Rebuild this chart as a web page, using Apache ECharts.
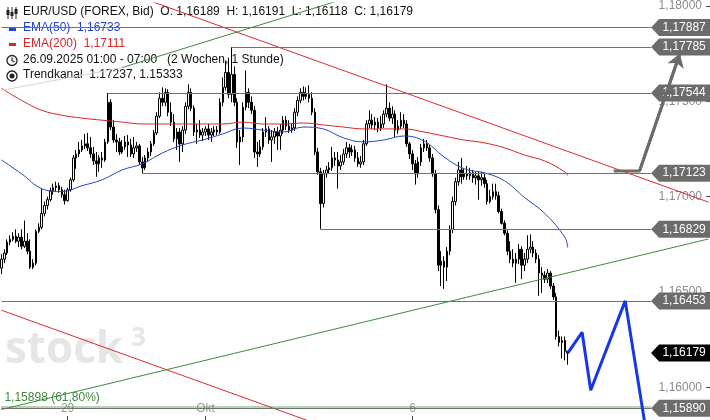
<!DOCTYPE html>
<html><head><meta charset="utf-8">
<script src="https://cdn.jsdelivr.net/npm/echarts@6/dist/echarts.min.js"></script>
<style>html,body{margin:0;padding:0;background:#fff}#c{width:710px;height:420px}</style>
</head><body><div id="c"></div>
<script>
// ---- data ----
const opens = [
1.16625,1.16672,1.16704,1.16761,1.16776,1.16792,1.16766,1.16787,1.16740,1.16766,
1.16714,1.16630,1.16651,1.16818,1.16839,1.16912,1.16953,1.16984,1.17031,1.17047,
1.17057,1.17036,1.17010,1.16979,1.17036,1.17088,1.17203,1.17224,1.17245,1.17266,
1.17277,1.17256,1.17224,1.17187,1.17172,1.17203,1.17192,1.17287,1.17495,1.17365,
1.17297,1.17287,1.17234,1.17261,1.17287,1.17271,1.17224,1.17256,1.17266,1.17182,
1.17151,1.17203,1.17234,1.17277,1.17334,1.17422,1.17516,1.17495,1.17547,1.17443,
1.17391,1.17303,1.17339,1.17277,1.17349,1.17474,1.17547,1.17464,1.17339,1.17349,
1.17323,1.17339,1.17355,1.17323,1.17339,1.17349,1.17339,1.17495,1.17573,1.17651,
1.17537,1.17641,1.17495,1.17287,1.17313,1.17469,1.17547,1.17495,1.17453,1.17234,
1.17224,1.17261,1.17339,1.17355,1.17297,1.17313,1.17339,1.17318,1.17349,1.17401,
1.17370,1.17349,1.17360,1.17443,1.17505,1.17547,1.17526,1.17537,1.17516,1.17443,
1.17234,1.17130,1.16964,1.17120,1.17140,1.17151,1.17203,1.17192,1.17161,1.17182,
1.17224,1.17256,1.17234,1.17245,1.17203,1.17172,1.17182,1.17277,1.17381,1.17401,
1.17375,1.17391,1.17360,1.17381,1.17433,1.17464,1.17412,1.17433,1.17349,1.17370,
1.17401,1.17381,1.17277,1.17224,1.17172,1.17120,1.17182,1.17256,1.17277,1.17256,
1.17203,1.17120,1.16932,1.16640,1.16661,1.16630,1.16714,1.16828,1.16974,1.17078,
1.17140,1.17104,1.17120,1.17109,1.17125,1.17099,1.17109,1.17088,1.17099,1.17068,
1.16974,1.17000,1.17026,1.17005,1.16922,1.16860,1.16808,1.16714,1.16672,1.16651,
1.16672,1.16724,1.16640,1.16672,1.16724,1.16735,1.16704,1.16672,1.16599,1.16588,
1.16567,1.16599,1.16531,1.16474,1.16266,1.16235,1.16245,1.16189];
const highs = [
1.16698,1.16724,1.16776,1.16797,1.16813,1.16828,1.16808,1.16828,1.16875,1.16808,
1.16776,1.16672,1.16828,1.16860,1.17042,1.16974,1.17000,1.17047,1.17068,1.17078,
1.17073,1.17052,1.17036,1.17047,1.17099,1.17218,1.17245,1.17287,1.17297,1.17329,
1.17334,1.17313,1.17261,1.17234,1.17218,1.17234,1.17303,1.17544,1.17511,1.17401,
1.17329,1.17308,1.17297,1.17318,1.17323,1.17303,1.17313,1.17287,1.17277,1.17208,
1.17218,1.17256,1.17292,1.17349,1.17443,1.17547,1.17573,1.17568,1.17563,1.17495,
1.17433,1.17360,1.17360,1.17370,1.17495,1.17589,1.17568,1.17479,1.17381,1.17401,
1.17360,1.17370,1.17381,1.17360,1.17370,1.17370,1.17516,1.17625,1.17714,1.17729,
1.17785,1.17683,1.17516,1.17349,1.17495,1.17662,1.17568,1.17526,1.17474,1.17287,
1.17297,1.17360,1.17417,1.17370,1.17349,1.17360,1.17365,1.17381,1.17422,1.17422,
1.17401,1.17381,1.17464,1.17526,1.17568,1.17578,1.17573,1.17584,1.17547,1.17464,
1.17256,1.17151,1.17140,1.17161,1.17182,1.17261,1.17234,1.17234,1.17218,1.17250,
1.17287,1.17277,1.17271,1.17266,1.17234,1.17213,1.17297,1.17401,1.17453,1.17433,
1.17417,1.17412,1.17422,1.17453,1.17589,1.17495,1.17474,1.17453,1.17401,1.17443,
1.17433,1.17401,1.17287,1.17245,1.17192,1.17208,1.17277,1.17303,1.17297,1.17271,
1.17224,1.17140,1.16953,1.16714,1.16687,1.16735,1.16849,1.17000,1.17099,1.17182,
1.17203,1.17151,1.17161,1.17151,1.17140,1.17130,1.17130,1.17130,1.17120,1.17088,
1.17036,1.17068,1.17068,1.17026,1.16937,1.16875,1.16823,1.16766,1.16724,1.16704,
1.16751,1.16740,1.16704,1.16797,1.16802,1.16766,1.16724,1.16693,1.16630,1.16609,
1.16620,1.16609,1.16547,1.16495,1.16297,1.16266,1.16266,1.16191];
const lows = [
1.16593,1.16651,1.16693,1.16745,1.16766,1.16756,1.16735,1.16724,1.16730,1.16698,
1.16620,1.16620,1.16640,1.16808,1.16828,1.16896,1.16932,1.16974,1.17010,1.17026,
1.17021,1.16995,1.16958,1.16974,1.17026,1.17078,1.17146,1.17208,1.17234,1.17250,
1.17240,1.17203,1.17166,1.17104,1.17130,1.17151,1.17182,1.17277,1.17349,1.17282,
1.17234,1.17218,1.17224,1.17245,1.17208,1.17208,1.17203,1.17234,1.17166,1.17123,
1.17140,1.17182,1.17213,1.17266,1.17323,1.17412,1.17474,1.17474,1.17422,1.17370,
1.17287,1.17245,1.17182,1.17234,1.17329,1.17458,1.17448,1.17318,1.17277,1.17308,
1.17292,1.17318,1.17297,1.17287,1.17318,1.17323,1.17329,1.17474,1.17557,1.17516,
1.17495,1.17474,1.17256,1.17166,1.17287,1.17453,1.17464,1.17433,1.17203,1.17156,
1.17208,1.17245,1.17313,1.17277,1.17182,1.17277,1.17245,1.17245,1.17329,1.17349,
1.17334,1.17334,1.17344,1.17422,1.17490,1.17505,1.17511,1.17495,1.17427,1.17218,
1.17115,1.16829,1.16943,1.17099,1.17120,1.17135,1.17161,1.17042,1.17140,1.17166,
1.17203,1.17203,1.17213,1.17182,1.17156,1.17151,1.17166,1.17266,1.17360,1.17355,
1.17349,1.17339,1.17344,1.17360,1.17417,1.17396,1.17381,1.17313,1.17329,1.17355,
1.17360,1.17261,1.17197,1.17140,1.17063,1.17099,1.17161,1.17234,1.17240,1.17182,
1.17104,1.16912,1.16609,1.16531,1.16516,1.16557,1.16693,1.16808,1.16953,1.17057,
1.17068,1.17088,1.17088,1.17088,1.17073,1.17063,1.16984,1.17057,1.17047,1.16958,
1.16964,1.16984,1.16984,1.16912,1.16854,1.16797,1.16693,1.16651,1.16630,1.16547,
1.16646,1.16567,1.16609,1.16651,1.16704,1.16682,1.16651,1.16479,1.16495,1.16547,
1.16547,1.16516,1.16458,1.16250,1.16214,1.16151,1.16141,1.16118];
const closes = [
1.16672,1.16704,1.16761,1.16776,1.16792,1.16766,1.16787,1.16740,1.16766,1.16714,
1.16630,1.16651,1.16818,1.16839,1.16912,1.16953,1.16984,1.17031,1.17047,1.17057,
1.17036,1.17010,1.16979,1.17036,1.17088,1.17203,1.17224,1.17245,1.17266,1.17277,
1.17256,1.17224,1.17187,1.17172,1.17203,1.17192,1.17287,1.17495,1.17365,1.17297,
1.17287,1.17234,1.17261,1.17287,1.17271,1.17224,1.17256,1.17266,1.17182,1.17151,
1.17203,1.17234,1.17277,1.17334,1.17422,1.17516,1.17495,1.17547,1.17443,1.17391,
1.17303,1.17339,1.17277,1.17349,1.17474,1.17547,1.17464,1.17339,1.17349,1.17323,
1.17339,1.17355,1.17323,1.17339,1.17349,1.17339,1.17495,1.17573,1.17651,1.17537,
1.17641,1.17495,1.17287,1.17313,1.17469,1.17547,1.17495,1.17453,1.17234,1.17224,
1.17261,1.17339,1.17355,1.17297,1.17313,1.17339,1.17318,1.17349,1.17401,1.17370,
1.17349,1.17360,1.17443,1.17505,1.17547,1.17526,1.17537,1.17516,1.17443,1.17234,
1.17130,1.16964,1.17120,1.17140,1.17151,1.17203,1.17192,1.17161,1.17182,1.17224,
1.17256,1.17234,1.17245,1.17203,1.17172,1.17182,1.17277,1.17381,1.17401,1.17375,
1.17391,1.17360,1.17381,1.17433,1.17464,1.17412,1.17433,1.17349,1.17370,1.17401,
1.17381,1.17277,1.17224,1.17172,1.17120,1.17182,1.17256,1.17277,1.17256,1.17203,
1.17120,1.16932,1.16640,1.16661,1.16630,1.16714,1.16828,1.16974,1.17078,1.17140,
1.17104,1.17120,1.17109,1.17125,1.17099,1.17109,1.17088,1.17099,1.17068,1.16974,
1.17000,1.17026,1.17005,1.16922,1.16860,1.16808,1.16714,1.16672,1.16651,1.16672,
1.16724,1.16640,1.16672,1.16724,1.16735,1.16704,1.16672,1.16599,1.16588,1.16567,
1.16599,1.16531,1.16474,1.16266,1.16235,1.16245,1.16189,1.16179];

const emaIdx = [0,7,14,21,28,35,42,49,56,63,70,77,84,91,98,105,112,119,126,133,140,147,154,161,168,175,182,189,196,197];
const ema50 = [1.17192,1.17120,1.17042,1.17026,1.17057,1.17088,1.17140,1.17172,1.17229,1.17271,1.17297,1.17329,1.17360,1.17349,1.17339,1.17365,1.17355,1.17308,1.17287,1.17297,1.17318,1.17292,1.17208,1.17146,1.17125,1.17083,1.16995,1.16912,1.16787,1.16733];
const ema200 = [1.17568,1.17505,1.17453,1.17427,1.17412,1.17401,1.17391,1.17381,1.17381,1.17381,1.17381,1.17381,1.17391,1.17381,1.17381,1.17386,1.17376,1.17365,1.17355,1.17355,1.17355,1.17339,1.17318,1.17297,1.17282,1.17256,1.17218,1.17187,1.17130,1.17111];

const slotCount = 247;               // hourly slots incl. projection space
const xTickIdx = [23, 71, 143];
const xTickText = ['29', 'Okt', '6'];
const yTicks = [1.16, 1.165, 1.17, 1.175, 1.18];
const yMin = 1.158281, yMax = 1.180156;

const levelValues = [1.17887, 1.17785, 1.17544, 1.17123, 1.16829, 1.16453, 1.15890];
const levelStart = [0, 80, 37, 49, 111, 0, 0];
const levelEnd = 226;
const fibValue = 1.15898;
const fibText = '1,15898 (61,80%)';
const lastPrice = 1.16179;

const trendUpper = [[0, 1.18308], [246, 1.16971]];
const trendLower = [[0, 1.16404], [246, 1.15067]];
const greenLower = [[0, 1.15883], [246, 1.16778]];
const greenUpper = [[42, 1.17677], [120, 1.18041]];
const greenUpperFaint = [[0, 1.17557], [42, 1.17677]];
const projBlue = [[197, 1.16179], [202, 1.16288], [205, 1.15984], [217, 1.16453], [225, 1.15700]];
const projGray = [[213, 1.17135], [222, 1.17135], [236, 1.17750]];

// ---- build ----
const xCategories = [];
for (let i = 0; i < slotCount; i++) {
  const k = xTickIdx.indexOf(i);
  xCategories.push(k >= 0 ? xTickText[k] : '');
}
const showTick = (i) => xTickIdx.indexOf(i) >= 0;
const fmt = (v) => Number(v).toFixed(5).replace('.', ',');
const FONT = 'Liberation Sans';

const candleData = opens.map((o, i) => [o, closes[i], lows[i], highs[i]]);
const ema50Data = emaIdx.map((x, k) => [x, ema50[k]]);
const ema200Data = emaIdx.map((x, k) => [x, ema200[k]]);

const levelLines = levelValues.map((v, k) => [{coord: [levelStart[k], v]}, {coord: [levelEnd, v]}]);
levelLines.push([{coord: [0, fibValue], lineStyle: {color: '#3f8f3f', type: [1, 1], width: 1.5},
  label: {show: true, formatter: fibText, position: 'insideStartTop', color: '#3f8a3f', fontSize: 12, fontFamily: FONT, distance: 3}},
  {coord: [levelEnd, fibValue]}]);

const tagPoints = levelValues.map(v => ({coord: [levelEnd, v], value: v, itemStyle: {color: '#6d6c6b'}}));
tagPoints.push({coord: [levelEnd, lastPrice], value: lastPrice, itemStyle: {color: '#000'}});

const chart = echarts.init(document.getElementById('c'), null, {renderer: 'canvas'});
const lineS = (name, data, color, width, z, extra) => Object.assign({
  name, type: 'line', data, symbol: 'none', silent: true, z,
  lineStyle: {color, width}, itemStyle: {color}
}, extra || {});

chart.setOption({
  animation: false,
  backgroundColor: '#fff',
  grid: {left: 0, right: 0, top: 0, bottom: 0, containLabel: false},
  xAxis: {
    type: 'category', data: xCategories, boundaryGap: true,
    axisLine: {show: false},
    axisTick: {show: true, inside: true, length: 4, alignWithLabel: true, interval: showTick, lineStyle: {color: '#444'}},
    axisLabel: {show: true, inside: true, margin: 5, interval: showTick, color: '#999', fontSize: 12, fontFamily: FONT},
    splitLine: {show: false}
  },
  yAxis: {
    type: 'value', position: 'right', min: yMin, max: yMax,
    axisLine: {show: false},
    axisTick: {show: true, inside: true, length: 4, customValues: yTicks, lineStyle: {color: '#444'}},
    axisLabel: {show: true, inside: true, margin: 8, customValues: yTicks, formatter: fmt, color: '#8c8c8c', fontSize: 12, fontFamily: FONT},
    splitLine: {show: false}
  },
  series: [
    {type: 'line', data: [], z: 1, silent: true,
     markLine: {silent: true, symbol: ['none', 'none'], label: {show: false},
       lineStyle: {color: '#707070', width: 1, type: 'solid'}, data: levelLines}},
    {type: 'candlestick', data: candleData, z: 3, barWidth: 2, silent: true,
     itemStyle: {color: '#fff', color0: '#000', borderColor: '#000', borderColor0: '#000', borderWidth: 1}},
    lineS('ema200', ema200Data, '#d8262a', 1, 4, {smooth: 0.4}),
    lineS('ema50', ema50Data, '#2445c8', 1, 4, {smooth: 0.4}),
    lineS('tu', trendUpper, '#e1282c', 1, 4),
    lineS('tl', trendLower, '#e1282c', 1, 4),
    lineS('gl', greenLower, '#3d8a3d', 1, 4),
    lineS('gu', greenUpper, '#3d8a3d', 1, 4),
    lineS('guf', greenUpperFaint, '#cfd8cf', 1, 4),
    lineS('pb', projBlue, '#1538e6', 3, 6),
    lineS('pg', projGray, '#6b6b6b', 3, 6, {
      markLine: {silent: true, symbol: ['none', 'arrow'], symbolSize: 13, label: {show: false},
        lineStyle: {color: '#6b6b6b', width: 3, type: 'solid'},
        data: [[{coord: projGray[1]}, {coord: projGray[2]}]]}}),
    {type: 'line', data: [], z: 10, silent: true,
     markPoint: {silent: true, symbol: 'path://M0,8.5 L8,0 L60,0 L60,17 L8,17 Z', symbolSize: [60, 17],
       symbolOffset: ['50%', 0],
       label: {show: true, position: 'inside', offset: [3, 0], color: '#fff', fontSize: 12, fontFamily: FONT, formatter: p => fmt(p.value)},
       data: tagPoints}}
  ],
  graphic: [
    {type: 'text', left: 5, top: 328, silent: true, z: 0,
     style: {text: 'stock', font: 'bold 44px "Open Sans"', fill: '#e6e6e6'}},
    {type: 'text', left: 131, top: 326, silent: true, z: 0,
     style: {text: '3', font: 'bold 26px "Open Sans"', fill: '#e6e6e6'}},
    // legend icons
    {type: 'line', shape: {x1: 8, y1: 7, x2: 8, y2: 19}, style: {stroke: '#222', lineWidth: 1}},
    {type: 'line', shape: {x1: 12, y1: 7, x2: 12, y2: 19}, style: {stroke: '#222', lineWidth: 1}},
    {type: 'line', shape: {x1: 16, y1: 7, x2: 16, y2: 19}, style: {stroke: '#222', lineWidth: 1}},
    {type: 'rect', shape: {x: 6.5, y: 10, width: 3, height: 5}, style: {fill: '#222'}},
    {type: 'rect', shape: {x: 10.5, y: 12, width: 3, height: 4}, style: {fill: '#222'}},
    {type: 'rect', shape: {x: 14.5, y: 9, width: 3, height: 5}, style: {fill: '#222'}},
    {type: 'rect', shape: {x: 9, y: 28, width: 7, height: 3}, style: {fill: '#2445c8'}},
    {type: 'rect', shape: {x: 9, y: 43, width: 7, height: 3}, style: {fill: '#d8262a'}},
    {type: 'circle', shape: {cx: 12, cy: 60.5, r: 5}, style: {stroke: '#222', fill: 'none', lineWidth: 1.3}},
    {type: 'polyline', shape: {points: [[12, 57.5], [12, 60.5], [14.5, 62]]}, style: {stroke: '#222', fill: 'none', lineWidth: 1.2}},
    {type: 'circle', shape: {cx: 12, cy: 76, r: 5}, style: {stroke: '#222', fill: 'none', lineWidth: 1.3}},
    {type: 'circle', shape: {cx: 12, cy: 76, r: 2.5}, style: {fill: '#222'}},
    {type: 'text', left: 23, top: 6, style: {text: 'EUR/USD (FOREX, Bid)  O: 1,16189  H: 1,16191  L: 1,16118  C: 1,16179', font: '12px "Liberation Sans"', fill: '#111'}},
    {type: 'text', left: 23, top: 22, style: {text: 'EMA(50)  1,16733', font: '12px "Liberation Sans"', fill: '#2445c8'}},
    {type: 'text', left: 23, top: 37.5, style: {text: 'EMA(200)  1,17111', font: '12px "Liberation Sans"', fill: '#d8262a'}},
    {type: 'text', left: 23, top: 53.5, style: {text: '26.09.2025 01:00 - 07:00   (2 Wochen, 1 Stunde)', font: '12px "Liberation Sans"', fill: '#111'}},
    {type: 'text', left: 23, top: 69, style: {text: 'Trendkanal  1.17237, 1.15333', font: '12px "Liberation Sans"', fill: '#111'}}
  ]
});
</script>
</body></html>
